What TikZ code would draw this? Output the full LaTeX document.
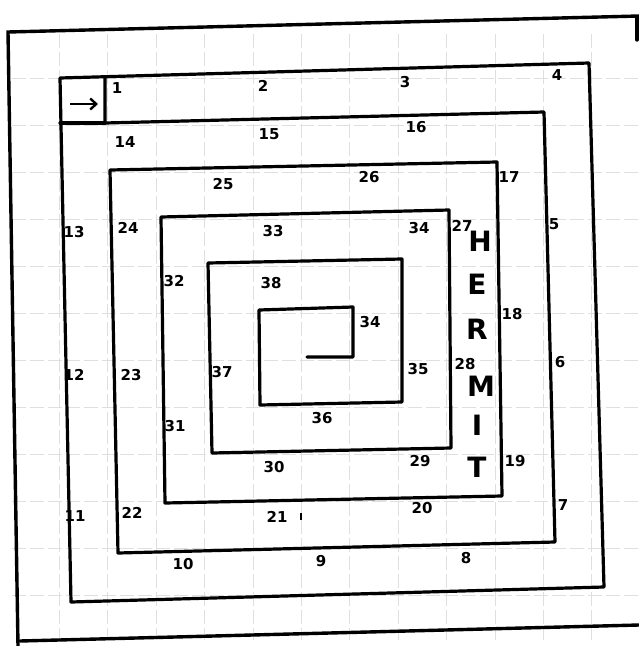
\documentclass[tikz,border=0pt]{standalone}
\usepackage{fontspec}
\newfontfamily\numfont{DejaVu Sans}
\usetikzlibrary{arrows.meta}
\tikzset{
  wall/.style={line width=3.2pt, line cap=round, line join=round},
  pageedge/.style={line width=3.4pt, line cap=round},
  gridline/.style={gray!25, line width=0.9pt, dash pattern=on 14pt off 4pt},
  num/.style={font=\numfont\bfseries\fontsize{15}{15}\selectfont, inner sep=0pt},
  bigletter/.style={font=\numfont\bfseries\fontsize{28}{28}\selectfont, inner sep=0pt}
}
\begin{document}
\begin{tikzpicture}[x=1pt,y=-1pt]
\useasboundingbox (0,0) rectangle (639,646);
\fill[white] (0,0) rectangle (639,646);
% grid
\foreach \gx in {59,107,156,204,253,301,349,398,446,495,543,591}
  \draw[gridline] (\gx,34) -- (\gx,640);
\foreach \gy in {78,125,172,219,266,313,360,407,454,501,548,595}
  \draw[gridline] (12,\gy) -- (639,\gy);
% page edges
\draw[pageedge] (639,16) -- (8,32) -- (18,646);
\draw[pageedge] (20,641) -- (639,625);
\draw[pageedge] (637,18) -- (637,40);
% outer ring and entry box
\draw[wall] (60,78) -- (589,63) -- (604,587) -- (71,602) -- cycle;
\draw[wall] (60,123) -- (105,123);
% spiral
\draw[wall] (307,357) -- (353,357) -- (353,307) -- (259,310) -- (260,405)
  -- (402,402) -- (402,259) -- (208,263) -- (212,453) -- (451,448)
  -- (449,210) -- (161,217) -- (165,503) -- (502,496) -- (497,162)
  -- (110,170) -- (118,553) -- (555,542) -- (544,112) -- (105,123)
  -- (105,78);
% entry arrow
\coordinate (arrS) at (70,104);
\coordinate (arrE) at (98,104);
\draw[line width=2.4pt, -{Straight Barb[length=6pt,width=11pt]}] (arrS) -- (arrE);
% small tick near 21
\draw[line width=1.2pt] (301,513) -- (301,520);
% numbers
\node[num] (n1) at (117,88) {1};
\node[num] (n2) at (263,86) {2};
\node[num] (n3) at (405,82) {3};
\node[num] (n4) at (557,75) {4};
\node[num] (n5) at (554,224) {5};
\node[num] (n6) at (560,362) {6};
\node[num] (n7) at (563,505) {7};
\node[num] (n8) at (466,558) {8};
\node[num] (n9) at (321,561) {9};
\node[num] (n10) at (183,564) {10};
\node[num] (n11) at (75,516) {11};
\node[num] (n12) at (74,375) {12};
\node[num] (n13) at (74,232) {13};
\node[num] (n14) at (125,142) {14};
\node[num] (n15) at (269,134) {15};
\node[num] (n16) at (416,127) {16};
\node[num] (n17) at (509,177) {17};
\node[num] (n18) at (512,314) {18};
\node[num] (n19) at (515,461) {19};
\node[num] (n20) at (422,508) {20};
\node[num] (n21) at (277,517) {21};
\node[num] (n22) at (132,513) {22};
\node[num] (n23) at (131,375) {23};
\node[num] (n24) at (128,228) {24};
\node[num] (n25) at (223,184) {25};
\node[num] (n26) at (369,177) {26};
\node[num] (n27) at (462,226) {27};
\node[num] (n28) at (465,364) {28};
\node[num] (n29) at (420,461) {29};
\node[num] (n30) at (274,467) {30};
\node[num] (n31) at (175,426) {31};
\node[num] (n32) at (174,281) {32};
\node[num] (n33) at (273,231) {33};
\node[num] (n34a) at (419,228) {34};
\node[num] (n34b) at (370,322) {34};
\node[num] (n35) at (418,369) {35};
\node[num] (n36) at (322,418) {36};
\node[num] (n37) at (222,372) {37};
\node[num] (n38) at (271,283) {38};
% HERMIT
\node[bigletter] (lH) at (480,241) {H};
\node[bigletter] (lE) at (477,284) {E};
\node[bigletter] (lR) at (477,329) {R};
\node[bigletter] (lM) at (481,386) {M};
\node[bigletter] (lI) at (477,425) {I};
\node[bigletter] (lT) at (477,467) {T};
\end{tikzpicture}
\end{document}
